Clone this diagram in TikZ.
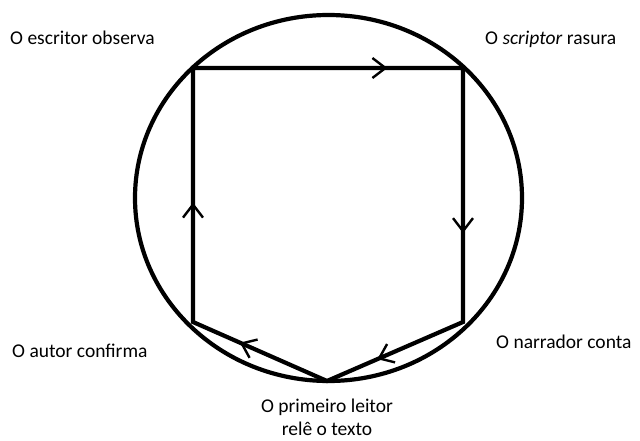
\documentclass[tikz,border=0pt]{standalone}
\usepackage{fontspec}
\setmainfont{Carlito}
\usetikzlibrary{arrows.meta,decorations.markings}

\begin{document}
\begin{tikzpicture}[x=1pt,y=-1pt,
    traco/.style={line width=4.2pt},
    seta/.style={postaction={decorate},
      decoration={markings, mark=at position #1 with
        {\arrow{Straight Barb[length=13pt,width=20pt,line width=2.4pt]}}}},
    rotulo/.style={font=\fontsize{19.5}{25}\selectfont, inner sep=0pt}]
    \useasboundingbox (0,0) rectangle (640,441);
    % Elipse
    \draw[traco] (328.5,198) ellipse [x radius=193.5, y radius=183];
    % Vertices
    \coordinate (obs) at (193,68);
    \coordinate (ras) at (463,68);
    \coordinate (con) at (463,322);
    \coordinate (rel) at (327,381);
    \coordinate (conf) at (193,322);
    % Pentagono
    \draw[traco, line join=miter] (obs) -- (ras) -- (con) -- (rel) -- (conf) -- cycle;
    % Setas (sentido horario)
    \path[seta=0.72] (obs) -- (ras);
    \path[seta=0.65] (ras) -- (con);
    \path[seta=0.63] (con) -- (rel);
    \path[seta=0.65] (rel) -- (conf);
    \path[seta=0.47] (conf) -- (obs);
    % Rotulos
    \node[rotulo, anchor=base west] (tobs) at (10,45) {O escritor observa};
    \node[rotulo, anchor=base west] (tras) at (485,45) {O \textit{scriptor} rasura};
    \node[rotulo, anchor=base west] (tconf) at (12,357) {O autor confirma};
    \node[rotulo, anchor=base west] (tcon) at (496,348) {O narrador conta};
    \node[rotulo, anchor=base] (trel) at (327,412) {O primeiro leitor};
    \node[rotulo, anchor=base] (trel2) at (327,435) {relê o texto};
\end{tikzpicture}
\end{document}
